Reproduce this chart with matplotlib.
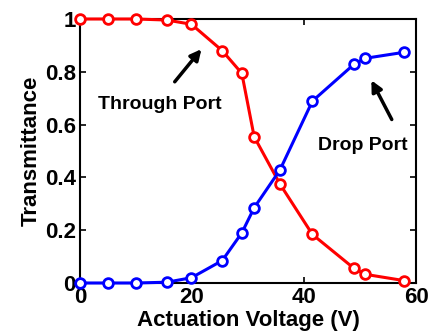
import matplotlib
matplotlib.use('Agg')
import matplotlib.pyplot as plt

# Data
voltage = [0, 5, 10, 15.5, 19.9, 25.4, 28.9, 31.1, 35.7, 41.5, 48.9, 50.9, 57.9]
through_port = [1.0, 1.0, 1.0, 0.996, 0.98, 0.88, 0.794, 0.554, 0.375, 0.184, 0.056, 0.033, 0.009]
drop_port = [0.0, 0.0, 0.0, 0.003, 0.02, 0.085, 0.19, 0.285, 0.428, 0.689, 0.828, 0.851, 0.874]

x_ticks = [0, 20, 40, 60]
y_ticks = [0, 0.2, 0.4, 0.6, 0.8, 1]
y_tick_labels = ['0', '0.2', '0.4', '0.6', '0.8', '1']

plt.rcParams['font.family'] = ['Liberation Sans', 'DejaVu Sans']
plt.rcParams['font.weight'] = 'bold'

fig = plt.figure(figsize=(4.29, 3.35), dpi=100)
ax = fig.add_axes([0.1865, 0.1552, 0.7832, 0.7881])

ax.plot(voltage, through_port, color='red', lw=2.2, marker='o', ms=7,
        mfc='white', mec='red', mew=2.0, clip_on=False, zorder=3)
ax.plot(voltage, drop_port, color='blue', lw=2.2, marker='o', ms=7,
        mfc='white', mec='blue', mew=2.0, clip_on=False, zorder=3)

ax.set_xlim(0, 60)
ax.set_ylim(0, 1)
ax.set_xticks(x_ticks)
ax.set_yticks(y_ticks)
ax.set_yticklabels(y_tick_labels)
ax.tick_params(direction='in', length=4, width=1.2, labelsize=16,
               top=True, right=True, pad=3)
for lab in ax.get_xticklabels() + ax.get_yticklabels():
    lab.set_fontweight('bold')
for sp in ax.spines.values():
    sp.set_linewidth(1.5)

ax.set_xlabel('Actuation Voltage (V)', fontsize=16, fontweight='bold', labelpad=1)
ax.set_ylabel('Transmittance', fontsize=16, fontweight='bold', labelpad=2)

# annotations
ax.annotate('', xy=(22.0, 0.894), xytext=(16.6, 0.754),
            arrowprops=dict(arrowstyle='-|>', color='k', lw=2.5, mutation_scale=16))
ax.text(14.3, 0.678, 'Through Port', fontsize=14, fontweight='bold',
        ha='center', va='center')
ax.annotate('', xy=(51.8, 0.777), xytext=(55.9, 0.61),
            arrowprops=dict(arrowstyle='-|>', color='k', lw=2.5, mutation_scale=16))
ax.text(50.5, 0.519, 'Drop Port', fontsize=14, fontweight='bold',
        ha='center', va='center')

fig.savefig('out.png', dpi=100)
